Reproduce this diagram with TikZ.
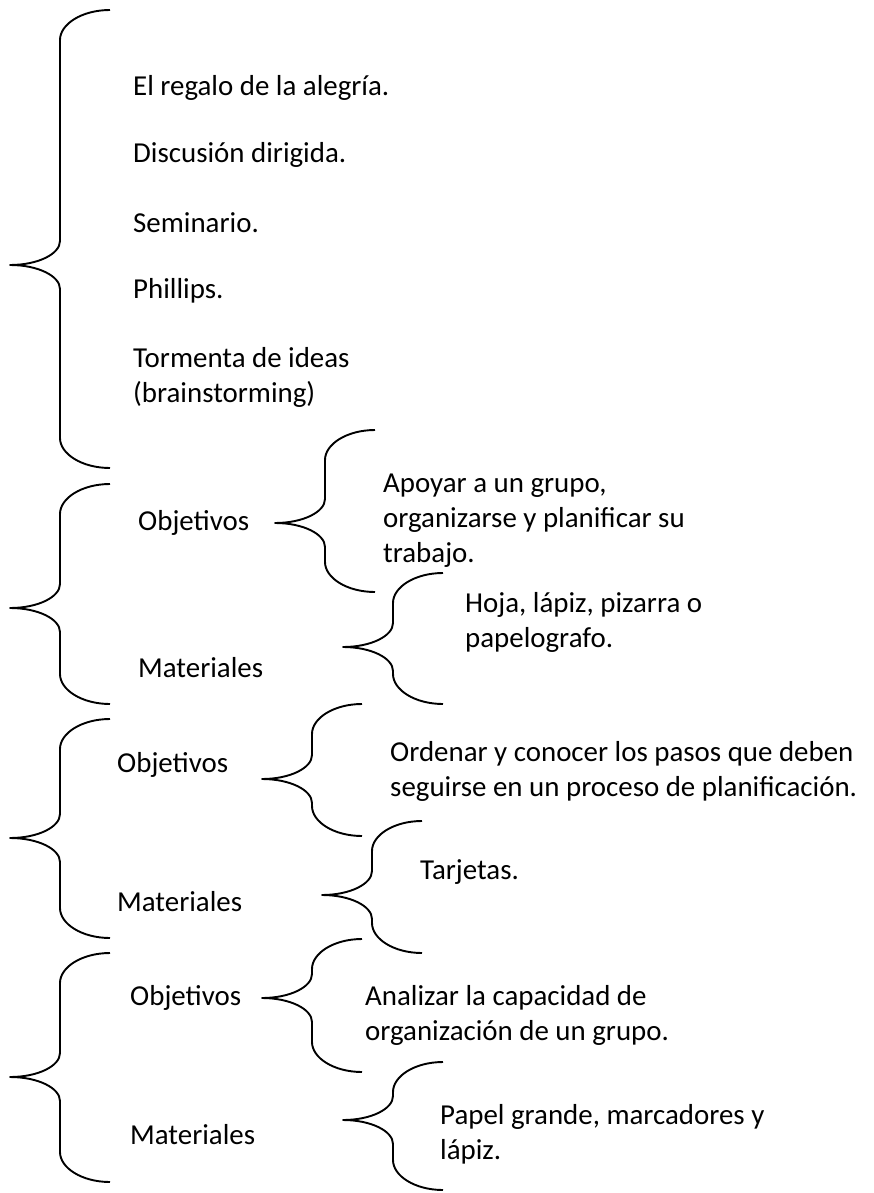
\documentclass[tikz,border=0pt]{standalone}
\usepackage{fontspec}
\setmainfont{Carlito}
\usepackage{tikz}
\usetikzlibrary{calc}
% llave: x de la punta, y arriba, y de la punta, y abajo
\newcommand{\llave}[4]{%
  \draw[llave] (#1+100,#2) .. controls (#1+72,#2) and (#1+50,#2+14) .. (#1+50,#2+30)
    -- (#1+50,#3-24) .. controls (#1+50,#3-11) and (#1+28,#3) .. (#1,#3)
    .. controls (#1+28,#3) and (#1+50,#3+11) .. (#1+50,#3+24)
    -- (#1+50,#4-30) .. controls (#1+50,#4-14) and (#1+72,#4) .. (#1+100,#4);}

\begin{document}
\begin{tikzpicture}[
  x=1pt, y=-1pt,
  every node/.style={font=\fontsize{28.9}{35}\selectfont},
  texto/.style={anchor=west, inner sep=0pt, align=left},
  llave/.style={line width=1.9pt, line join=round}
]
\useasboundingbox (0,0) rectangle (873,1193);

% tecnicas (llave grande)
\llave{10}{10}{265}{468}
\node[texto] (regalo) at (133,88) {El regalo de la alegría.};
\node[texto] (discusion) at (133,155) {Discusión dirigida.};
\node[texto] (seminario) at (133,223) {Seminario.};
\node[texto] (phillips) at (133,291) {Phillips.};
\node[texto] (tormenta) at (133,377) {Tormenta de ideas\\(brainstorming)};

% primer grupo
\llave{10}{484}{608}{704}
\node[texto] (obj1) at (138,523) {Objetivos};
\llave{275}{430}{523}{592}
\node[texto] (obj1txt) at (383,521) {Apoyar a un grupo,\\organizarse y planificar su\\trabajo.};
\node[texto] (mat1) at (138,668) {Materiales};
\llave{343}{573}{647}{704}
\node[texto] (mat1txt) at (465,622) {Hoja, lápiz, pizarra o\\papelografo.};

% segundo grupo
\llave{10}{719}{838}{938}
\node[texto] (obj2) at (117,765) {Objetivos};
\llave{262}{704}{779}{836}
\node[texto] (obj2txt) at (390,771) {Ordenar y conocer los pasos que deben\\seguirse en un proceso de planificación.};
\node[texto] (mat2) at (117,902) {Materiales};
\llave{322}{821}{895}{953}
\node[texto] (mat2txt) at (420,872) {Tarjetas.};

% tercer grupo
\llave{10}{953}{1077}{1182}
\node[texto] (obj3) at (130,998) {Objetivos};
\llave{262}{939}{998}{1072}
\node[texto] (obj3txt) at (365,1015) {Analizar la capacidad de\\organización de un grupo.};
\node[texto] (mat3) at (130,1135) {Materiales};
\llave{343}{1062}{1120}{1190}
\node[texto] (mat3txt) at (440,1134) {Papel grande, marcadores y\\lápiz.};
\end{tikzpicture}
\end{document}
